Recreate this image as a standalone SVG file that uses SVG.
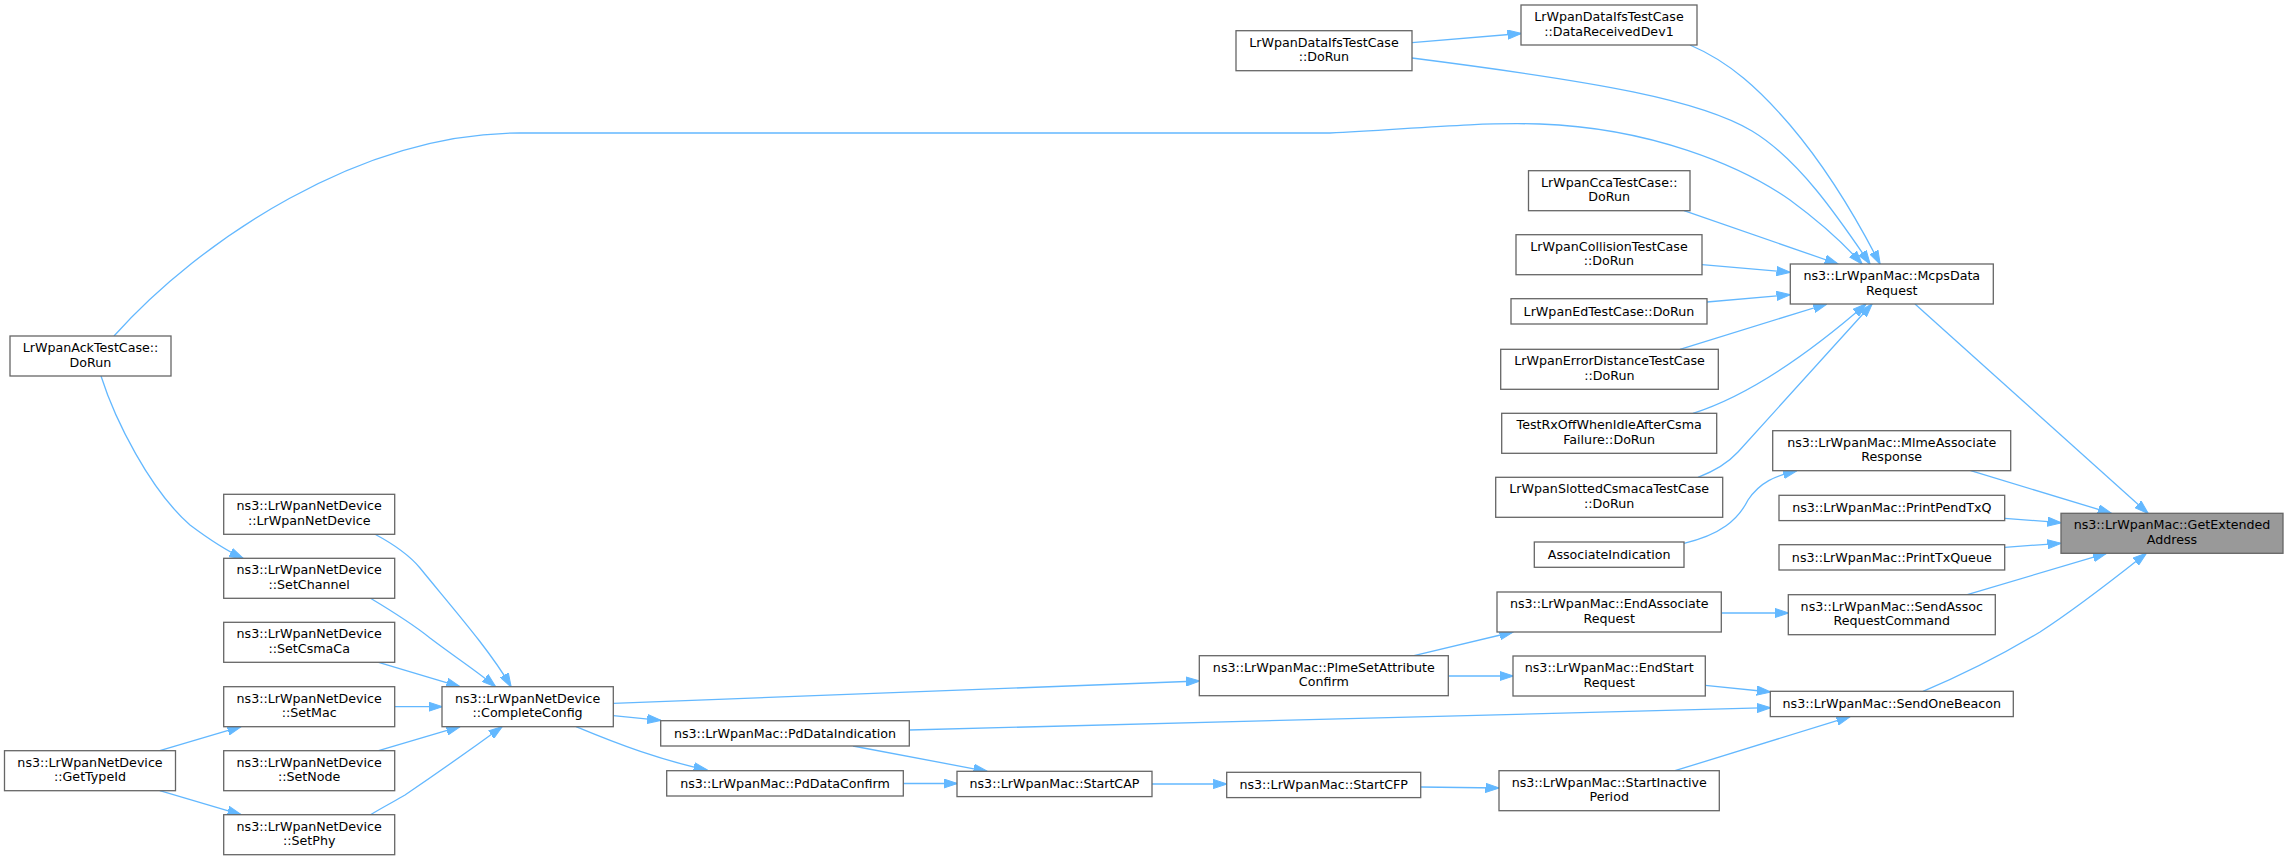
<svg xmlns="http://www.w3.org/2000/svg" width="2288" height="860" viewBox="0 0 2288 860">
<style>
.n rect{fill:#ffffff;stroke:#666666;stroke-width:1.3}
.n.hl rect{fill:#999999}
.n text{font-family:"DejaVu Sans","Liberation Sans",sans-serif;font-size:12.67px;fill:#000000;text-anchor:middle}
.e path{fill:none;stroke:#63b8ff;stroke-width:1.3;marker-end:url(#ah)}
</style>
<defs>
<marker id="ah" markerUnits="userSpaceOnUse" markerWidth="14" markerHeight="10" viewBox="0 0 14 10" refX="13.5" refY="5" orient="auto">
<path d="M0,0.4 L14,5 L0,9.6 z" fill="#63b8ff" stroke="#63b8ff" stroke-width="1"/>
</marker>
</defs>
<rect width="2288" height="860" fill="#ffffff"/>
<g class="e" id="edges">
<path d="M1412,42.7 L1521,33.5"/>
<path d="M1412,58 C1600,82 1700,100 1752,131 C1800,160 1840,220 1870,264"/>
<path d="M1690,45 C1730,62 1760,90 1790,125 C1830,172 1860,225 1880,264"/>
<path d="M114,336 C200,240 360,133 520,133 L1330,133 C1400,130 1470,122 1540,124 C1650,128 1740,165 1790,200 C1820,222 1845,245 1862,264"/>
<path d="M101,376 C115,420 150,490 190,525 C210,540 225,550 243,558.3"/>
<path d="M1684,210.7 L1838,264"/>
<path d="M1702,264.7 L1790,272.3"/>
<path d="M1707,302 L1790,294.7"/>
<path d="M1680,349.3 L1826.7,304"/>
<path d="M1693,413.3 C1735,400 1790,370 1866,304"/>
<path d="M1698,477.3 C1712,472 1726,465 1738,452 L1872,304"/>
<path d="M1684,543.3 C1720,535 1738,520 1748,500 C1760,482 1775,476 1796.7,470.7"/>
<path d="M1915,304 L2148,513.3"/>
<path d="M1970.7,470.7 L2111.3,513.3"/>
<path d="M2004.7,518.3 L2061,522.7"/>
<path d="M2004.7,547.3 L2061,543.3"/>
<path d="M1967.3,594.7 L2106.3,553.3"/>
<path d="M1923,691.3 C1960,676 2000,656 2040,632 C2080,606 2115,578 2146.3,553.3"/>
<path d="M1721.3,613 L1788.3,613"/>
<path d="M1414,655.7 L1513,632"/>
<path d="M1448.3,676 L1513,676"/>
<path d="M1705.3,685.3 L1770.3,692"/>
<path d="M909.3,730 L1770.3,707.7"/>
<path d="M1675,770.7 L1850,716.7"/>
<path d="M1420.7,787 L1499,788"/>
<path d="M1152,784 L1226.7,784"/>
<path d="M853,746 L987,771.3"/>
<path d="M903.3,783.5 L957,783.5"/>
<path d="M613.3,703.3 L1199.3,681"/>
<path d="M613.3,715.7 L660.7,720.3"/>
<path d="M576,726.7 C620,745 660,760 707,770"/>
<path d="M375,534.3 C395,545 410,556 420,568 C450,605 490,650 511,686.7"/>
<path d="M370.5,598.3 C390,610 410,622 430,638 C455,657 478,672 495.5,686.7"/>
<path d="M378.6,662.3 L459.8,686.7"/>
<path d="M394.6,706.7 L442,706.7"/>
<path d="M378.6,750.7 L459.8,726.7"/>
<path d="M370.5,814.7 C385,806 395,801 405,795 C430,778 470,750 502,726.7"/>
<path d="M159.8,750.7 L241,726.7"/>
<path d="M159.8,790.7 L241,814.7"/>
</g>
<g class="n" id="n_dataifs_dorun"><rect x="1236" y="30.7" width="176" height="40"/><text x="1324" y="46.7">LrWpanDataIfsTestCase</text><text x="1324" y="61.4">::DoRun</text></g>
<g class="n" id="n_datareceived"><rect x="1521" y="5" width="176" height="40"/><text x="1609" y="21">LrWpanDataIfsTestCase</text><text x="1609" y="35.7">::DataReceivedDev1</text></g>
<g class="n" id="n_ack"><rect x="10" y="336" width="161" height="40"/><text x="90.5" y="352">LrWpanAckTestCase::</text><text x="90.5" y="366.7">DoRun</text></g>
<g class="n" id="n_cca"><rect x="1528.5" y="170.7" width="161.5" height="40"/><text x="1609.2" y="186.7">LrWpanCcaTestCase::</text><text x="1609.2" y="201.4">DoRun</text></g>
<g class="n" id="n_collision"><rect x="1516" y="234.7" width="186" height="40"/><text x="1609" y="250.7">LrWpanCollisionTestCase</text><text x="1609" y="265.4">::DoRun</text></g>
<g class="n" id="n_ed"><rect x="1511" y="298.7" width="196" height="25.3"/><text x="1609" y="315.6">LrWpanEdTestCase::DoRun</text></g>
<g class="n" id="n_errdist"><rect x="1500.7" y="349.3" width="217.6" height="40"/><text x="1609.5" y="365.3">LrWpanErrorDistanceTestCase</text><text x="1609.5" y="380">::DoRun</text></g>
<g class="n" id="n_testrx"><rect x="1501.7" y="413.3" width="215" height="40"/><text x="1609.2" y="429.3">TestRxOffWhenIdleAfterCsma</text><text x="1609.2" y="444">Failure::DoRun</text></g>
<g class="n" id="n_slotted"><rect x="1495.7" y="477.3" width="227" height="40"/><text x="1609.2" y="493.3">LrWpanSlottedCsmacaTestCase</text><text x="1609.2" y="508">::DoRun</text></g>
<g class="n" id="n_assocind"><rect x="1534.3" y="542" width="149.7" height="25.3"/><text x="1609.2" y="558.9">AssociateIndication</text></g>
<g class="n" id="n_mcps"><rect x="1790.3" y="264" width="203" height="40"/><text x="1891.8" y="280">ns3::LrWpanMac::McpsData</text><text x="1891.8" y="294.7">Request</text></g>
<g class="n" id="n_mlme"><rect x="1772.7" y="430.7" width="238" height="40"/><text x="1891.7" y="446.7">ns3::LrWpanMac::MlmeAssociate</text><text x="1891.7" y="461.4">Response</text></g>
<g class="n" id="n_printpend"><rect x="1779" y="495.3" width="225.7" height="25.3"/><text x="1891.8" y="512.2">ns3::LrWpanMac::PrintPendTxQ</text></g>
<g class="n" id="n_printtx"><rect x="1779" y="544.7" width="225.7" height="25.3"/><text x="1891.8" y="561.6">ns3::LrWpanMac::PrintTxQueue</text></g>
<g class="n hl" id="n_getext"><rect x="2061" y="513.3" width="222" height="40"/><text x="2172" y="529.3">ns3::LrWpanMac::GetExtended</text><text x="2172" y="544">Address</text></g>
<g class="n" id="n_sendassoc"><rect x="1788.3" y="594.7" width="207" height="40"/><text x="1891.8" y="610.7">ns3::LrWpanMac::SendAssoc</text><text x="1891.8" y="625.4">RequestCommand</text></g>
<g class="n" id="n_endassoc"><rect x="1497" y="592" width="224.3" height="40"/><text x="1609.2" y="608">ns3::LrWpanMac::EndAssociate</text><text x="1609.2" y="622.7">Request</text></g>
<g class="n" id="n_plme"><rect x="1199.3" y="655.7" width="249" height="40"/><text x="1323.8" y="671.7">ns3::LrWpanMac::PlmeSetAttribute</text><text x="1323.8" y="686.4">Confirm</text></g>
<g class="n" id="n_endstart"><rect x="1513" y="656" width="192.3" height="40"/><text x="1609.2" y="672">ns3::LrWpanMac::EndStart</text><text x="1609.2" y="686.7">Request</text></g>
<g class="n" id="n_beacon"><rect x="1770.3" y="691.3" width="243" height="25.3"/><text x="1891.8" y="708.2">ns3::LrWpanMac::SendOneBeacon</text></g>
<g class="n" id="n_pdind"><rect x="660.7" y="720.7" width="248.6" height="25.3"/><text x="785" y="737.6">ns3::LrWpanMac::PdDataIndication</text></g>
<g class="n" id="n_pdconf"><rect x="666.7" y="770.7" width="236.6" height="25.3"/><text x="785" y="787.6">ns3::LrWpanMac::PdDataConfirm</text></g>
<g class="n" id="n_startcap"><rect x="957" y="771.3" width="195" height="25.3"/><text x="1054.5" y="788.2">ns3::LrWpanMac::StartCAP</text></g>
<g class="n" id="n_startcfp"><rect x="1226.7" y="772.3" width="194" height="25.3"/><text x="1323.7" y="789.2">ns3::LrWpanMac::StartCFP</text></g>
<g class="n" id="n_startinactive"><rect x="1499" y="770.7" width="220.3" height="40"/><text x="1609.2" y="786.7">ns3::LrWpanMac::StartInactive</text><text x="1609.2" y="801.4">Period</text></g>
<g class="n" id="n_completeconfig"><rect x="442" y="686.7" width="171.3" height="40"/><text x="527.6" y="702.7">ns3::LrWpanNetDevice</text><text x="527.6" y="717.4">::CompleteConfig</text></g>
<g class="n" id="n_lrwpannetdevice"><rect x="223.7" y="494.3" width="171" height="40"/><text x="309.2" y="510.3">ns3::LrWpanNetDevice</text><text x="309.2" y="525">::LrWpanNetDevice</text></g>
<g class="n" id="n_setchannel"><rect x="223.7" y="558.3" width="171" height="40"/><text x="309.2" y="574.3">ns3::LrWpanNetDevice</text><text x="309.2" y="589">::SetChannel</text></g>
<g class="n" id="n_setcsmaca"><rect x="223.7" y="622.3" width="171" height="40"/><text x="309.2" y="638.3">ns3::LrWpanNetDevice</text><text x="309.2" y="653">::SetCsmaCa</text></g>
<g class="n" id="n_setmac"><rect x="223.7" y="686.7" width="171" height="40"/><text x="309.2" y="702.7">ns3::LrWpanNetDevice</text><text x="309.2" y="717.4">::SetMac</text></g>
<g class="n" id="n_setnode"><rect x="223.7" y="750.7" width="171" height="40"/><text x="309.2" y="766.7">ns3::LrWpanNetDevice</text><text x="309.2" y="781.4">::SetNode</text></g>
<g class="n" id="n_setphy"><rect x="223.7" y="814.7" width="171" height="40"/><text x="309.2" y="830.7">ns3::LrWpanNetDevice</text><text x="309.2" y="845.4">::SetPhy</text></g>
<g class="n" id="n_gettypeid"><rect x="4.5" y="750.7" width="171" height="40"/><text x="90" y="766.7">ns3::LrWpanNetDevice</text><text x="90" y="781.4">::GetTypeId</text></g>
</svg>
